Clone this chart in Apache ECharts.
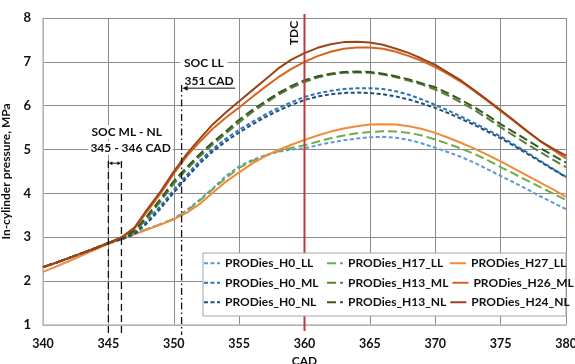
<!DOCTYPE html>
<html><head><meta charset="utf-8">
<script src="https://cdn.jsdelivr.net/npm/echarts@6/dist/echarts.min.js"></script>
<style>html,body{margin:0;padding:0;background:#fff}#c{width:575px;height:364px}</style>
</head><body><div id="c"></div>
<script>
const cad = [340,341,342,343,344,345,346,347,348,349,350,351,352,353,354,355,356,357,358,359,360,361,362,363,364,365,366,367,368,369,370,371,372,373,374,375,376,377,378,379,380];
const xTicks = [340,345,350,355,360,365,370,375,380];
const yTicks = [1,2,3,4,5,6,7,8];
const comp = [2.32,2.42,2.53,2.64,2.75,2.87];
const H0_LL  = comp.concat([2.97,3.08,3.19,3.30,3.42,3.62,3.86,4.12,4.40,4.62,4.76,4.87,4.95,5.00,5.03,5.10,5.16,5.21,5.25,5.28,5.29,5.27,5.22,5.14,5.04,4.94,4.83,4.70,4.55,4.40,4.25,4.10,3.94,3.79,3.64]);
const H17_LL = comp.concat([2.97,3.08,3.19,3.30,3.42,3.60,3.84,4.10,4.35,4.58,4.74,4.86,4.96,5.04,5.10,5.18,5.26,5.32,5.37,5.40,5.42,5.41,5.38,5.32,5.23,5.13,5.02,4.90,4.76,4.60,4.45,4.30,4.15,4.00,3.85]);
const H27_LL = [2.21,2.33,2.46,2.59,2.72,2.85,2.96,3.07,3.18,3.29,3.41,3.56,3.76,4.02,4.27,4.48,4.68,4.85,4.99,5.11,5.22,5.32,5.41,5.48,5.53,5.57,5.58,5.57,5.53,5.47,5.38,5.27,5.15,5.02,4.88,4.73,4.57,4.41,4.25,4.09,3.92];
const H0_ML  = comp.concat([2.96,3.10,3.38,3.72,4.08,4.42,4.75,5.02,5.25,5.45,5.63,5.80,5.95,6.08,6.20,6.28,6.34,6.38,6.40,6.40,6.38,6.33,6.25,6.14,6.02,5.89,5.75,5.60,5.45,5.30,5.12,4.94,4.75,4.56,4.38]);
const H13_ML = comp.concat([2.97,3.12,3.45,3.82,4.22,4.55,4.85,5.12,5.37,5.62,5.85,6.06,6.25,6.41,6.54,6.64,6.71,6.75,6.76,6.75,6.71,6.65,6.57,6.48,6.37,6.23,6.07,5.90,5.71,5.51,5.32,5.13,4.95,4.77,4.60]);
const H26_ML = comp.concat([2.98,3.20,3.60,4.00,4.45,4.85,5.18,5.48,5.73,5.96,6.20,6.43,6.65,6.84,7.00,7.13,7.23,7.30,7.33,7.33,7.30,7.23,7.13,7.02,6.88,6.72,6.54,6.33,6.11,5.88,5.65,5.42,5.20,5.00,4.80]);
const H0_NL  = comp.concat([2.95,3.07,3.33,3.66,4.02,4.36,4.69,4.96,5.19,5.39,5.57,5.74,5.89,6.02,6.13,6.21,6.26,6.29,6.30,6.29,6.26,6.21,6.14,6.05,5.95,5.83,5.70,5.56,5.41,5.26,5.09,4.91,4.73,4.55,4.37]);
const H13_NL = comp.concat([2.98,3.15,3.50,3.88,4.28,4.60,4.90,5.17,5.42,5.68,5.90,6.10,6.29,6.45,6.58,6.67,6.73,6.77,6.78,6.77,6.73,6.67,6.60,6.51,6.42,6.28,6.13,5.96,5.78,5.58,5.40,5.22,5.04,4.87,4.70]);
const H24_NL = comp.concat([3.00,3.22,3.65,4.05,4.50,4.90,5.25,5.58,5.85,6.10,6.35,6.60,6.85,7.05,7.20,7.32,7.40,7.45,7.46,7.44,7.39,7.30,7.20,7.07,6.93,6.75,6.57,6.35,6.13,5.90,5.67,5.43,5.20,5.02,4.86]);
const names = ['PRODies_H0_LL','PRODies_H17_LL','PRODies_H27_LL','PRODies_H0_ML','PRODies_H13_ML','PRODies_H26_ML','PRODies_H0_NL','PRODies_H13_NL','PRODies_H24_NL'];
const values = [H0_LL,H17_LL,H27_LL,H0_ML,H13_ML,H26_ML,H0_NL,H13_NL,H24_NL];
const tdc = 360;
const socML = [345,346];
const socLL = 350.6;

const FONT = 'Lato';
const styles = [
  {c:'#5B9BD5', d:[4,2.5]}, {c:'#70AD47', d:[9,4]}, {c:'#F08A3C', d:'solid'},
  {c:'#2E75B6', d:[4,2.5]}, {c:'#548235', d:[9,4]}, {c:'#D9621F', d:'solid'},
  {c:'#1F4E79', d:[4,2.5]}, {c:'#375623', d:[9,4]}, {c:'#9A4419', d:'solid'}
];
const series = names.map((n,i)=>({
  name:n, type:'line', showSymbol:false, symbol:'none', z:2,
  data: cad.map((x,j)=>[x, values[i][j]]),
  lineStyle:{color:styles[i].c, width:2, type:styles[i].d},
  itemStyle:{color:styles[i].c}
}));
const chart = echarts.init(document.getElementById('c'), null, {renderer:'canvas'});
chart.setOption({
  animation:false,
  grid:{left:43, right:9, top:18, bottom:39, containLabel:false, outerBoundsMode:'none'},
  xAxis:{type:'value', min:340, max:380, interval:5, name:'CAD', nameLocation:'middle', nameGap:29,
    nameTextStyle:{fontFamily:FONT, fontWeight:'bold', fontSize:12, color:'#111'},
    axisLine:{show:true, lineStyle:{color:'#BFBFBF', width:1.5}}, axisTick:{show:false},
    axisLabel:{fontFamily:FONT, fontWeight:'bold', fontSize:12.5, color:'#111', margin:12},
    splitLine:{show:true, lineStyle:{color:'#8C8C8C', width:1}}},
  yAxis:{type:'value', min:1, max:8, interval:1, name:'In-cylinder pressure, MPa', nameLocation:'middle', nameGap:28,
    nameTextStyle:{fontFamily:FONT, fontWeight:'bold', fontSize:12, color:'#111'},
    axisLine:{show:true, lineStyle:{color:'#BFBFBF', width:1.5}}, axisTick:{show:false},
    axisLabel:{fontFamily:FONT, fontWeight:'bold', fontSize:13, color:'#111', margin:12},
    splitLine:{show:true, lineStyle:{color:'#8C8C8C', width:1}}},
  legend:{data:names, left:203, top:255, width:380, orient:'horizontal', itemWidth:16, itemHeight:10, itemGap:3,
    padding:0, z:5, selectedMode:false, itemStyle:{opacity:0},
    textStyle:{fontFamily:FONT, fontWeight:'bold', fontSize:12, color:'#111', width:98, lineHeight:16.5}},
  series: series
});

function px(x,y){ return chart.convertToPixel({gridIndex:0},[x,y]); }
function draw(){
  const g = [];
  const yb = px(340,1)[1];
  const yt = px(340,8)[1];
  // TDC
  const t = px(tdc,8);
  g.push({type:'line', z:2.5, shape:{x1:t[0],y1:yt-4,x2:t[0],y2:yb+6}, style:{stroke:'#C0393B', lineWidth:2}});
  g.push({type:'text', z:6, x:t[0]-10, y:yt+15, rotation:Math.PI/2, style:{text:'TDC', font:'bold 12px '+FONT, fill:'#111', align:'center', verticalAlign:'middle'}});
  // SOC ML-NL lines
  socML.forEach(v=>{
    const a = px(v,4.74);
    g.push({type:'line', z:6, shape:{x1:a[0],y1:a[1],x2:a[0],y2:yb+10}, style:{stroke:'#111', lineWidth:1.3, lineDash:[7,4]}});
  });
  const p1 = px(socML[0],4.69), p2 = px(socML[1],4.69);
  g.push({type:'line', z:6, shape:{x1:p1[0]+1,y1:p1[1],x2:p2[0]-1,y2:p2[1]}, style:{stroke:'#111', lineWidth:1}});
  g.push({type:'polygon', z:6, shape:{points:[[p1[0]+1,p1[1]],[p1[0]+4,p1[1]-2],[p1[0]+4,p1[1]+2]]}, style:{fill:'#111'}});
  g.push({type:'polygon', z:6, shape:{points:[[p2[0]-1,p2[1]],[p2[0]-4,p2[1]-2],[p2[0]-4,p2[1]+2]]}, style:{fill:'#111'}});
  const ta = px(346.4,5.4), tb = px(346.7,5.04);
  g.push({type:'text', z:6, x:ta[0], y:ta[1], style:{text:'SOC ML - NL', font:'bold 12px '+FONT, fill:'#111', align:'center', verticalAlign:'middle', backgroundColor:'#fff', padding:[1,2]}});
  g.push({type:'text', z:6, x:tb[0], y:tb[1], style:{text:'345 - 346 CAD', font:'bold 12px '+FONT, fill:'#111', align:'center', verticalAlign:'middle', backgroundColor:'#fff', padding:[1,2]}});
  // SOC LL
  const s = px(socLL,6.47);
  g.push({type:'line', z:6, shape:{x1:s[0],y1:s[1],x2:s[0],y2:yb+10}, style:{stroke:'#111', lineWidth:1.3, lineDash:[7,3,1.5,3]}});
  const ar = px(socLL,6.4), ar2 = px(354.7,6.4);
  g.push({type:'line', z:6, shape:{x1:ar[0]+2,y1:ar[1],x2:ar2[0],y2:ar2[1]}, style:{stroke:'#111', lineWidth:1}});
  g.push({type:'polygon', z:6, shape:{points:[[ar[0]+1,ar[1]],[ar[0]+6,ar[1]-2.5],[ar[0]+6,ar[1]+2.5]]}, style:{fill:'#111'}});
  const sl = px(352.3,6.98), sn = px(352.7,6.57);
  g.push({type:'text', z:6, x:sl[0], y:sl[1], style:{text:'SOC LL', font:'bold 12px '+FONT, fill:'#111', align:'center', verticalAlign:'middle', backgroundColor:'#fff', padding:[1,4]}});
  g.push({type:'text', z:6, x:sn[0], y:sn[1], style:{text:'351 CAD', font:'bold 12px '+FONT, fill:'#111', align:'center', verticalAlign:'middle'}});
  // legend box
  g.push({type:'rect', z:3, shape:{x:203,y:253,width:363,height:63}, style:{fill:'#fff', stroke:'#A6A6A6', lineWidth:1}});
  chart.setOption({graphic:g});
}
draw();
</script></body></html>
